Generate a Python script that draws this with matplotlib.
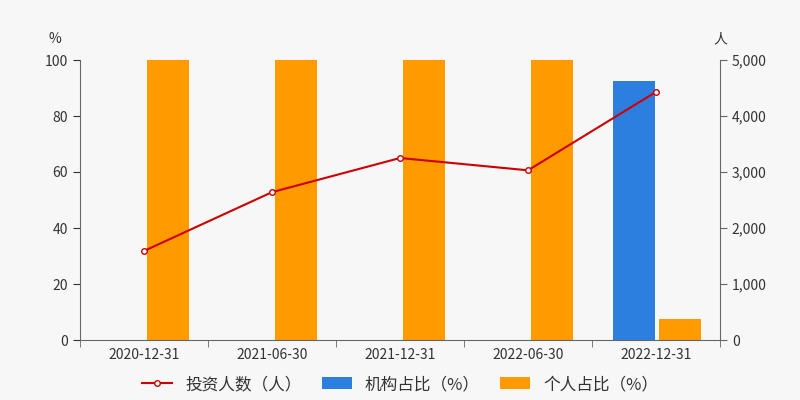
import matplotlib.pyplot as plt
import numpy as np

plt.rcParams['font.family'] = ['Noto Sans CJK SC', 'DejaVu Sans']

dates = ['2020-12-31', '2021-06-30', '2021-12-31', '2022-06-30', '2022-12-31']
jigou = [0, 0, 0, 0, 92.5]
geren = [100, 100, 100, 100, 7.5]
renshu = [1590, 2640, 3250, 3030, 4430]

fig = plt.figure(figsize=(8, 4), dpi=100, facecolor='#f7f7f7')
ax = fig.add_axes([0.1, 0.15, 0.8, 0.70])
ax.set_facecolor('#f7f7f7')
x = np.arange(len(dates))
w = 0.33
ax.bar(x + 0.01 - 0.18, jigou, w, color='#2c7fdf', label='机构占比（%）')
ax.bar(x + 0.01 + 0.18, geren, w, color='#ff9a00', label='个人占比（%）')
ax.set_xlim(-0.5, 4.5)
ax.set_ylim(0, 100)
ax.set_yticks(range(0, 101, 20))
ax.set_xticks(x)
ax.set_xticklabels(dates)
ax.set_xticks(np.arange(-0.5, 5, 1), minor=True)
ax.tick_params(axis='x', which='major', length=0, pad=6)
ax.tick_params(axis='x', which='minor', length=5, color='#666666')
ax.tick_params(axis='y', length=5, color='#666666')
ax.tick_params(colors='#333333', labelsize=10)
for s in ['top', 'right']:
    ax.spines[s].set_visible(False)
ax.spines['left'].set_color('#666666')
ax.spines['bottom'].set_color('#666666')
ax.text(-0.04, 1.06, '%', transform=ax.transAxes, ha='center', fontsize=10, color='#333333')

ax2 = ax.twinx()
ax2.plot(x, renshu, color='#cc0000', lw=1.5, marker='o', ms=4, mfc='white', mec='#cc0000',
         label='投资人数（人）')
ax2.set_ylim(0, 5000)
ax2.set_yticks(range(0, 5001, 1000))
ax2.set_yticklabels([f'{v:,}' for v in range(0, 5001, 1000)])
ax2.tick_params(axis='y', length=5, color='#666666', colors='#333333', labelsize=10)
for s in ['top', 'left', 'bottom']:
    ax2.spines[s].set_visible(False)
ax2.spines['right'].set_color('#666666')
ax2.text(1.0, 1.06, '人', transform=ax.transAxes, ha='center', fontsize=10, color='#333333')

h1, l1 = ax.get_legend_handles_labels()
h2, l2 = ax2.get_legend_handles_labels()
fig.legend(h2 + h1, l2 + l1, loc='lower center', ncol=3, frameon=False, fontsize=12,
           bbox_to_anchor=(0.5, -0.02), handlelength=1.8, columnspacing=1.2, labelcolor='#333333')
fig.savefig('out.png', facecolor=fig.get_facecolor())
